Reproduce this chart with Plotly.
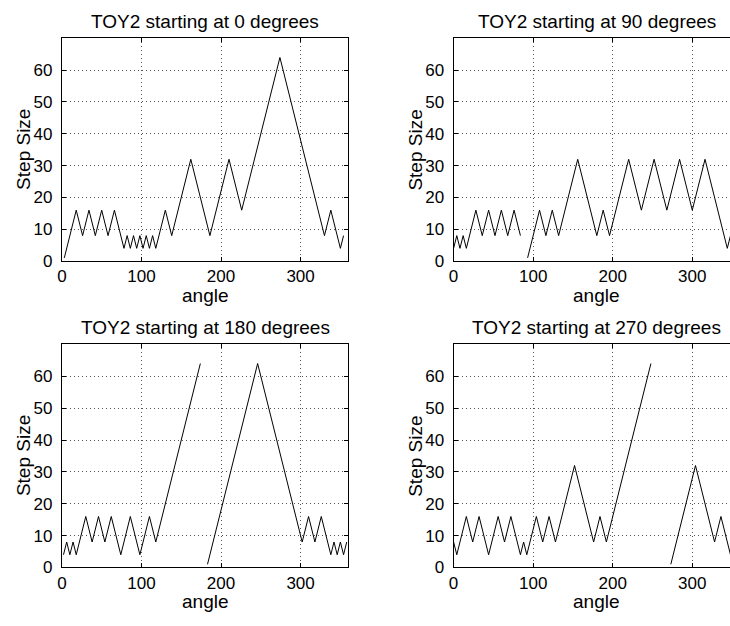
import plotly.graph_objects as go

# ---- data (angle in degrees, step size); None separates wrapped segments ----
titles = ["TOY2 starting at 0 degrees", "TOY2 starting at 90 degrees",
          "TOY2 starting at 180 degrees", "TOY2 starting at 270 degrees"]

angle_0 = [3, 18, 26, 34, 42, 50, 58, 66, 78, 82, 86, 90, 94, 98, 102, 106, 110,
           114, 118, 130, 138, 162, 186, 210, 226, 274, 330, 338, 350, 354]
step_0 = [1, 16, 8, 16, 8, 16, 8, 16, 4, 8, 4, 8, 4, 8, 4, 8, 4,
          8, 4, 16, 8, 32, 8, 32, 16, 64, 8, 16, 4, 8]

angle_90 = [0, 4, 8, 12, 16, 28, 36, 44, 52, 60, 68, 76, 84, None,
            93, 108, 116, 124, 132, 156, 180, 188, 196, 220, 236, 252, 268, 284,
            300, 316, 344, 348, 352, 356]
step_90 = [4, 8, 4, 8, 4, 16, 8, 16, 8, 16, 8, 16, 8, None,
           1, 16, 8, 16, 8, 32, 8, 16, 8, 32, 16, 32, 16, 32,
           16, 32, 4, 8, 4, 8]

angle_180 = [2, 6, 10, 14, 18, 30, 38, 46, 54, 62, 74, 86, 98, 110, 118, 174, None,
             183, 246, 302, 310, 318, 326, 338, 342, 346, 350, 354, 358]
step_180 = [4, 8, 4, 8, 4, 16, 8, 16, 8, 16, 4, 16, 4, 16, 8, 64, None,
            1, 64, 8, 16, 8, 16, 4, 8, 4, 8, 4, 8]

angle_270 = [0, 4, 16, 24, 32, 44, 56, 64, 72, 84, 88, 92, 104, 112, 120, 128,
             152, 176, 184, 192, 248, None,
             273, 304, 328, 336, 348, 352, 356]
step_270 = [8, 4, 16, 8, 16, 4, 16, 8, 16, 4, 8, 4, 16, 8, 16, 8,
            32, 8, 16, 8, 64, None,
            1, 32, 8, 16, 4, 8, 4]

x_ticks = [0, 100, 200, 300]
y_ticks = [0, 10, 20, 30, 40, 50, 60]
x_label = "angle"
y_label = "Step Size"

series = [(angle_0, step_0), (angle_90, step_90), (angle_180, step_180), (angle_270, step_270)]

# ---- layout geometry (pixels) ----
W, H = 730, 626
FONT = "Liberation Sans, Arial, Helvetica, sans-serif"
left_px = [57.3, 451.7]
plot_w = 288.4
top_px = [39.0, 350.0]
plot_h = [226.3, 226.7]

fig = go.Figure()
layout = dict(width=W, height=H, margin=dict(l=0, r=0, t=0, b=0),
              paper_bgcolor="white", plot_bgcolor="white", showlegend=False,
              font=dict(family=FONT, size=17, color="black"))
annotations = []

for i, (xs, ys) in enumerate(series):
    row, col = divmod(i, 2)
    n = "" if i == 0 else str(i + 1)
    x0 = left_px[col]
    x1 = min(x0 + plot_w, W)
    xmax = (x1 - x0) / plot_w * 360.0
    ytop = top_px[row]
    ybot = ytop + plot_h[row]
    fig.add_trace(go.Scatter(x=xs, y=ys, mode="lines", connectgaps=False,
                             line=dict(color="black", width=1),
                             xaxis="x" + n, yaxis="y" + n, hoverinfo="skip"))
    common = dict(ticks="inside", ticklen=4, tickwidth=1, tickcolor="black",
                  showline=True, linecolor="black", linewidth=1,
                  showgrid=True, gridcolor="#555555", gridwidth=1, griddash="1px,3px",
                  zeroline=False, tickfont=dict(family=FONT, size=17, color="black"))
    layout["xaxis" + n] = dict(domain=[x0 / W, x1 / W], range=[0, xmax],
                               tickvals=x_ticks, anchor="y" + n, mirror="ticks",
                               ticklabelstandoff=0, **common)
    layout["yaxis" + n] = dict(domain=[1 - ybot / H, 1 - ytop / H], range=[0, 70],
                               tickvals=y_ticks, anchor="x" + n,
                               mirror="ticks" if col == 0 else False,
                               ticklabelstandoff=5, **common)
    cx = x0 + plot_w / 2
    annotations.append(dict(text=titles[i], x=cx / W, y=1 - (ytop - 17) / H,
                            xref="paper", yref="paper", showarrow=False,
                            xanchor="center", yanchor="middle",
                            font=dict(family=FONT, size=19, color="black")))
    annotations.append(dict(text=x_label, x=cx / W, y=1 - (ybot + 35) / H,
                            xref="paper", yref="paper", showarrow=False,
                            xanchor="center", yanchor="middle", borderpad=0,
                            font=dict(family=FONT, size=19, color="black")))
    annotations.append(dict(text=y_label, x=(x0 - 38) / W, y=1 - (ytop + ybot) / 2 / H,
                            xref="paper", yref="paper", showarrow=False, textangle=-90,
                            xanchor="center", yanchor="middle",
                            font=dict(family=FONT, size=19, color="black")))

layout["annotations"] = annotations
fig.update_layout(**layout)
fig.write_html("out.html")
